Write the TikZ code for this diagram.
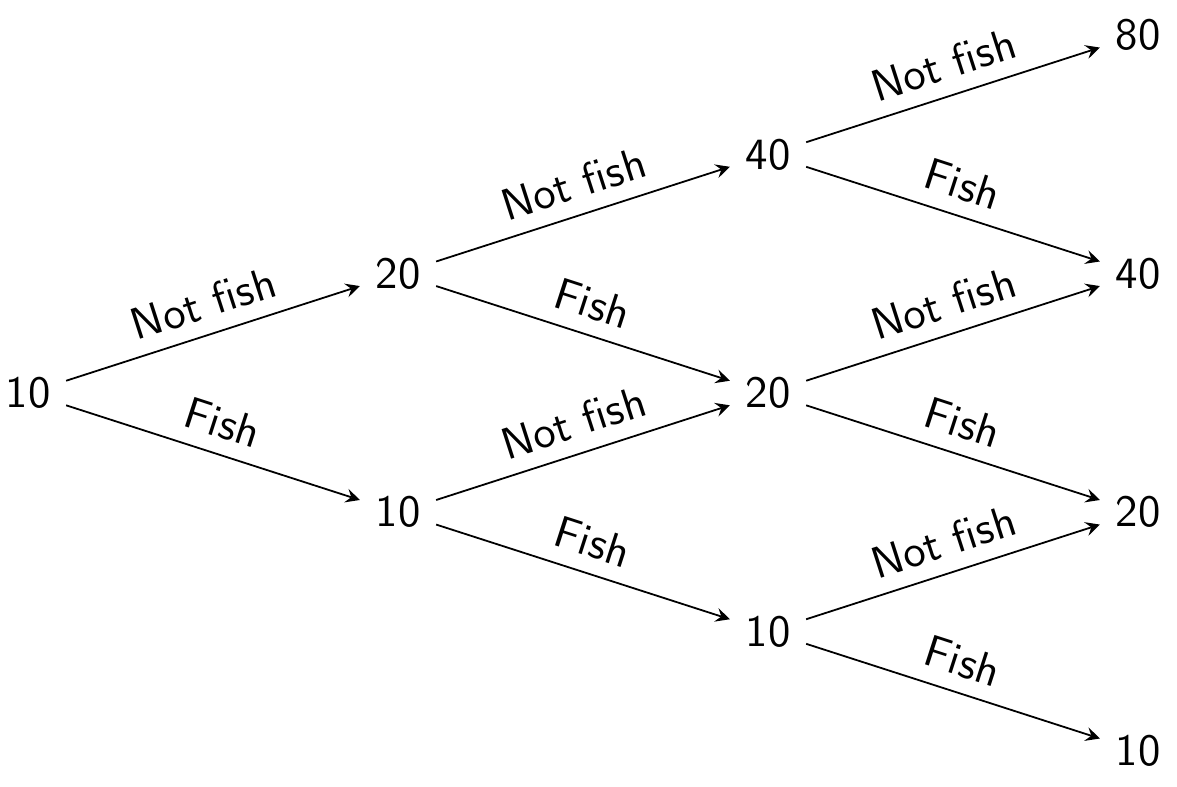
\documentclass[tikz,border=0pt]{standalone}
\begin{document}
\begin{tikzpicture}[x=0.2237pt,y=-0.2237pt,
  every node/.style={font=\sffamily},
  lbl/.style={above,sloped,midway},
  edge/.style={-stealth}]
\useasboundingbox (0,0) rectangle (1177,786);
% level 0
\node (a) at (28,393) {10};
% level 1
\node (b1) at (398,273.75) {20};
\node (b2) at (398,512.25) {10};
% level 2
\node (c1) at (768,154.5) {40};
\node (c2) at (768,393) {20};
\node (c3) at (768,631.5) {10};
% level 3
\node (d1) at (1138,35.25) {80};
\node (d2) at (1138,273.75) {40};
\node (d3) at (1138,512.25) {20};
\node (d4) at (1138,750.75) {10};
% edges
\draw[edge] (a) -- node[lbl]{Not fish} (b1);
\draw[edge] (a) -- node[lbl]{Fish} (b2);
\draw[edge] (b1) -- node[lbl]{Not fish} (c1);
\draw[edge] (b1) -- node[lbl]{Fish} (c2);
\draw[edge] (b2) -- node[lbl]{Not fish} (c2);
\draw[edge] (b2) -- node[lbl]{Fish} (c3);
\draw[edge] (c1) -- node[lbl]{Not fish} (d1);
\draw[edge] (c1) -- node[lbl]{Fish} (d2);
\draw[edge] (c2) -- node[lbl]{Not fish} (d2);
\draw[edge] (c2) -- node[lbl]{Fish} (d3);
\draw[edge] (c3) -- node[lbl]{Not fish} (d3);
\draw[edge] (c3) -- node[lbl]{Fish} (d4);
\end{tikzpicture}
\end{document}
